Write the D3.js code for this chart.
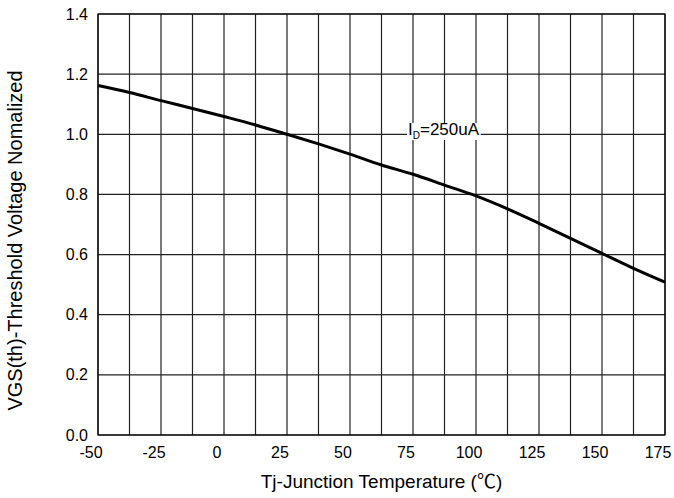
<!DOCTYPE html>
<html>
<head>
<meta charset="utf-8">
<script src="https://cdn.jsdelivr.net/npm/d3@7"></script>
<style>
  body { margin: 0; background: #fff; }
  text { font-family: Arial, "Liberation Sans", sans-serif; fill: #000; }
</style>
</head>
<body>
<script>
// temperature (C) and normalized threshold voltage
var temps = [-50, -37.5, -25, -12.5, 0, 12.5, 25, 37.5, 50, 62.5, 75, 87.5, 100, 112.5, 125, 137.5, 150, 162.5, 175];
var vth = [1.162, 1.139, 1.112, 1.086, 1.059, 1.031, 1.0, 0.968, 0.934, 0.898, 0.867, 0.831, 0.795, 0.752, 0.704, 0.654, 0.604, 0.554, 0.508];
var xTicks = [-50, -25, 0, 25, 50, 75, 100, 125, 150, 175];
var xGrid = d3.range(-50, 175.1, 12.5);
var yTicks = [0, 0.2, 0.4, 0.6, 0.8, 1.0, 1.2, 1.4];

var width = 674, height = 498;
var margin = {top: 14, right: 9, bottom: 63, left: 98};

var svg = d3.select("body")
            .append("svg")
            .attr("width", width)
            .attr("height", height);

var x = d3.scaleLinear().domain([-50, 175]).range([margin.left, width - margin.right]);
var y = d3.scaleLinear().domain([0, 1.4]).range([height - margin.bottom, margin.top]);

// grid
svg.append("g").selectAll("line").data(xGrid).enter().append("line")
    .attr("x1", function(d) { return x(d); })
    .attr("x2", function(d) { return x(d); })
    .attr("y1", y(0))
    .attr("y2", y(1.4))
    .attr("stroke", "#222")
    .attr("stroke-width", 1.2);

svg.append("g").selectAll("line").data(yTicks).enter().append("line")
    .attr("x1", x(-50))
    .attr("x2", x(175))
    .attr("y1", function(d) { return y(d); })
    .attr("y2", function(d) { return y(d); })
    .attr("stroke", "#222")
    .attr("stroke-width", 1.2);

// frame
svg.append("rect")
    .attr("x", x(-50))
    .attr("y", y(1.4))
    .attr("width", x(175) - x(-50))
    .attr("height", y(0) - y(1.4))
    .attr("fill", "none")
    .attr("stroke", "#000")
    .attr("stroke-width", 1.2);

// tick labels
svg.append("g").selectAll("text").data(yTicks).enter().append("text")
    .attr("x", x(-50) - 10)
    .attr("y", function(d) { return y(d); })
    .attr("dy", "0.35em")
    .attr("text-anchor", "end")
    .attr("font-size", "16px")
    .text(function(d) { return d.toFixed(1); });

svg.append("g").selectAll("text").data(xTicks).enter().append("text")
    .attr("x", function(d) { return x(d) - 7; })
    .attr("y", y(0) + 23)
    .attr("text-anchor", "middle")
    .attr("font-size", "16px")
    .text(function(d) { return d; });

// axis titles
var xt = svg.append("text")
    .attr("x", (x(-50) + x(175)) / 2)
    .attr("y", 488)
    .attr("text-anchor", "middle")
    .attr("font-size", "19px");
xt.append("tspan").text("Tj-Junction Temperature (");
xt.append("tspan").style("font-family", "'Noto Sans CJK SC'").text("\u2103");
xt.append("tspan").text(")");

svg.append("text")
    .attr("transform", "translate(22," + ((y(0) + y(1.4)) / 2 + 16) + ") rotate(-90)")
    .attr("text-anchor", "middle")
    .attr("font-size", "20px")
    .text("VGS(th)-Threshold Voltage Nomalized");

// curve
var line = d3.line()
    .x(function(d, i) { return x(temps[i]); })
    .y(function(d) { return y(d); })
    .curve(d3.curveMonotoneX);

svg.append("path")
    .datum(vth)
    .attr("d", line)
    .attr("fill", "none")
    .attr("stroke", "#000")
    .attr("stroke-width", 3);

// annotation
var ann = svg.append("text")
    .attr("x", 408)
    .attr("y", 135)
    .attr("font-size", "17px");
ann.append("tspan").text("I");
ann.append("tspan").attr("font-size", "10px").attr("dy", 4).text("D");
ann.append("tspan").attr("dy", -4).text("=250uA");

var bb = ann.node().getBBox();
svg.insert("rect", "path")
    .attr("x", bb.x - 1)
    .attr("y", bb.y + 3)
    .attr("width", bb.width + 2)
    .attr("height", bb.height - 4)
    .attr("fill", "#fff");
</script>
</body>
</html>
